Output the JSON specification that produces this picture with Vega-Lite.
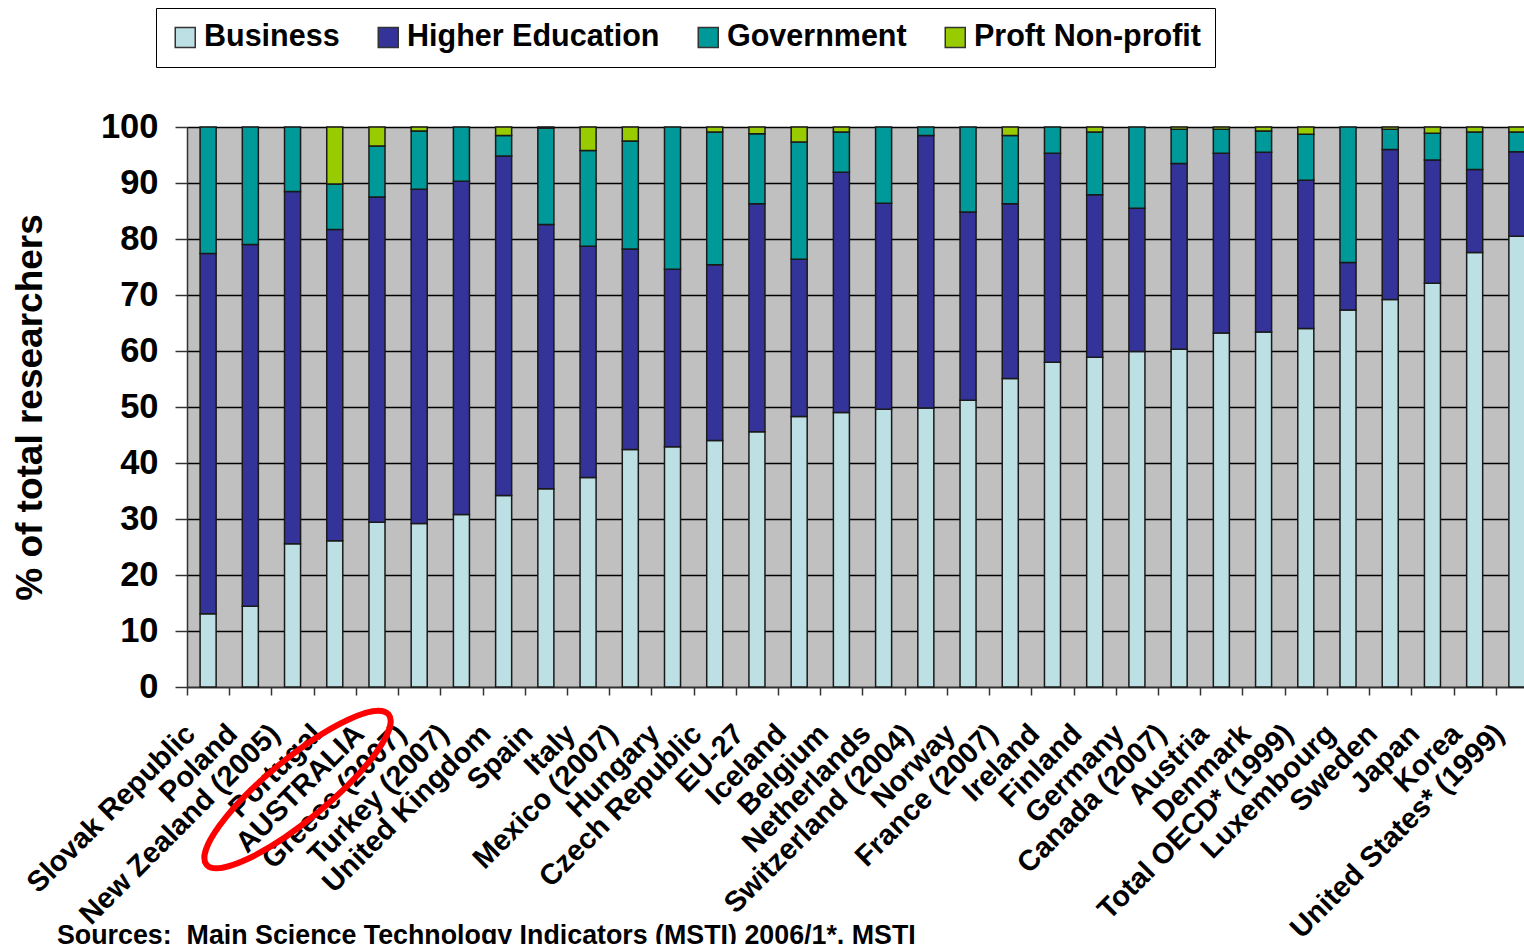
{
  "$schema": "https://vega.github.io/schema/vega-lite/v6.json",
  "width": 1351,
  "height": 560,
  "autosize": {"type": "none"},
  "padding": {"left": 187, "top": 127, "right": -14, "bottom": 257},
  "background": "white",
  "config": {
    "view": {"fill": "#C0C0C0", "stroke": null},
    "font": "Liberation Sans"
  },
  "title": {
    "text": "Sources:\u00a0 Main Science Technology Indicators (MSTI) 2006/1*, MSTI",
    "orient": "bottom", "anchor": "start", "frame": "group",
    "dx": -130, "offset": -20,
    "font": "Liberation Sans", "fontSize": 26.8, "fontWeight": "bold", "color": "black"
  },
  "layer": [
    {
      "data": {"values": [
        {"c":"Slovak Republic","s":"Business","v":13.1,"k":1},
        {"c":"Slovak Republic","s":"Higher Education","v":64.3,"k":2},
        {"c":"Slovak Republic","s":"Government","v":22.6,"k":3},
        {"c":"Poland","s":"Business","v":14.4,"k":1},
        {"c":"Poland","s":"Higher Education","v":64.6,"k":2},
        {"c":"Poland","s":"Government","v":21.0,"k":3},
        {"c":"New Zealand (2005)","s":"Business","v":25.6,"k":1},
        {"c":"New Zealand (2005)","s":"Higher Education","v":62.9,"k":2},
        {"c":"New Zealand (2005)","s":"Government","v":11.5,"k":3},
        {"c":"Portugal","s":"Business","v":26.1,"k":1},
        {"c":"Portugal","s":"Higher Education","v":55.6,"k":2},
        {"c":"Portugal","s":"Government","v":8.1,"k":3},
        {"c":"Portugal","s":"Proft Non-profit","v":10.2,"k":4},
        {"c":"AUSTRALIA","s":"Business","v":29.4,"k":1},
        {"c":"AUSTRALIA","s":"Higher Education","v":58.1,"k":2},
        {"c":"AUSTRALIA","s":"Government","v":9.1,"k":3},
        {"c":"AUSTRALIA","s":"Proft Non-profit","v":3.4,"k":4},
        {"c":"Greece (2007)","s":"Business","v":29.2,"k":1},
        {"c":"Greece (2007)","s":"Higher Education","v":59.7,"k":2},
        {"c":"Greece (2007)","s":"Government","v":10.4,"k":3},
        {"c":"Greece (2007)","s":"Proft Non-profit","v":0.7,"k":4},
        {"c":"Turkey (2007)","s":"Business","v":30.8,"k":1},
        {"c":"Turkey (2007)","s":"Higher Education","v":59.5,"k":2},
        {"c":"Turkey (2007)","s":"Government","v":9.7,"k":3},
        {"c":"United Kingdom","s":"Business","v":34.2,"k":1},
        {"c":"United Kingdom","s":"Higher Education","v":60.6,"k":2},
        {"c":"United Kingdom","s":"Government","v":3.7,"k":3},
        {"c":"United Kingdom","s":"Proft Non-profit","v":1.5,"k":4},
        {"c":"Spain","s":"Business","v":35.4,"k":1},
        {"c":"Spain","s":"Higher Education","v":47.2,"k":2},
        {"c":"Spain","s":"Government","v":17.2,"k":3},
        {"c":"Spain","s":"Proft Non-profit","v":0.2,"k":4},
        {"c":"Italy","s":"Business","v":37.4,"k":1},
        {"c":"Italy","s":"Higher Education","v":41.3,"k":2},
        {"c":"Italy","s":"Government","v":17.1,"k":3},
        {"c":"Italy","s":"Proft Non-profit","v":4.2,"k":4},
        {"c":"Mexico (2007)","s":"Business","v":42.4,"k":1},
        {"c":"Mexico (2007)","s":"Higher Education","v":35.8,"k":2},
        {"c":"Mexico (2007)","s":"Government","v":19.3,"k":3},
        {"c":"Mexico (2007)","s":"Proft Non-profit","v":2.5,"k":4},
        {"c":"Hungary","s":"Business","v":42.9,"k":1},
        {"c":"Hungary","s":"Higher Education","v":31.7,"k":2},
        {"c":"Hungary","s":"Government","v":25.4,"k":3},
        {"c":"Czech Republic","s":"Business","v":44.0,"k":1},
        {"c":"Czech Republic","s":"Higher Education","v":31.4,"k":2},
        {"c":"Czech Republic","s":"Government","v":23.7,"k":3},
        {"c":"Czech Republic","s":"Proft Non-profit","v":0.9,"k":4},
        {"c":"EU-27","s":"Business","v":45.6,"k":1},
        {"c":"EU-27","s":"Higher Education","v":40.7,"k":2},
        {"c":"EU-27","s":"Government","v":12.5,"k":3},
        {"c":"EU-27","s":"Proft Non-profit","v":1.2,"k":4},
        {"c":"Iceland","s":"Business","v":48.3,"k":1},
        {"c":"Iceland","s":"Higher Education","v":28.1,"k":2},
        {"c":"Iceland","s":"Government","v":20.9,"k":3},
        {"c":"Iceland","s":"Proft Non-profit","v":2.7,"k":4},
        {"c":"Belgium","s":"Business","v":49.0,"k":1},
        {"c":"Belgium","s":"Higher Education","v":42.9,"k":2},
        {"c":"Belgium","s":"Government","v":7.2,"k":3},
        {"c":"Belgium","s":"Proft Non-profit","v":0.9,"k":4},
        {"c":"Netherlands","s":"Business","v":49.6,"k":1},
        {"c":"Netherlands","s":"Higher Education","v":36.8,"k":2},
        {"c":"Netherlands","s":"Government","v":13.6,"k":3},
        {"c":"Switzerland (2004)","s":"Business","v":49.8,"k":1},
        {"c":"Switzerland (2004)","s":"Higher Education","v":48.7,"k":2},
        {"c":"Switzerland (2004)","s":"Government","v":1.5,"k":3},
        {"c":"Norway","s":"Business","v":51.2,"k":1},
        {"c":"Norway","s":"Higher Education","v":33.6,"k":2},
        {"c":"Norway","s":"Government","v":15.2,"k":3},
        {"c":"France (2007)","s":"Business","v":55.1,"k":1},
        {"c":"France (2007)","s":"Higher Education","v":31.2,"k":2},
        {"c":"France (2007)","s":"Government","v":12.2,"k":3},
        {"c":"France (2007)","s":"Proft Non-profit","v":1.5,"k":4},
        {"c":"Ireland","s":"Business","v":58.0,"k":1},
        {"c":"Ireland","s":"Higher Education","v":37.3,"k":2},
        {"c":"Ireland","s":"Government","v":4.7,"k":3},
        {"c":"Finland","s":"Business","v":58.9,"k":1},
        {"c":"Finland","s":"Higher Education","v":29.0,"k":2},
        {"c":"Finland","s":"Government","v":11.2,"k":3},
        {"c":"Finland","s":"Proft Non-profit","v":0.9,"k":4},
        {"c":"Germany","s":"Business","v":59.9,"k":1},
        {"c":"Germany","s":"Higher Education","v":25.6,"k":2},
        {"c":"Germany","s":"Government","v":14.5,"k":3},
        {"c":"Canada (2007)","s":"Business","v":60.3,"k":1},
        {"c":"Canada (2007)","s":"Higher Education","v":33.2,"k":2},
        {"c":"Canada (2007)","s":"Government","v":6.1,"k":3},
        {"c":"Canada (2007)","s":"Proft Non-profit","v":0.4,"k":4},
        {"c":"Austria","s":"Business","v":63.2,"k":1},
        {"c":"Austria","s":"Higher Education","v":32.1,"k":2},
        {"c":"Austria","s":"Government","v":4.3,"k":3},
        {"c":"Austria","s":"Proft Non-profit","v":0.4,"k":4},
        {"c":"Denmark","s":"Business","v":63.4,"k":1},
        {"c":"Denmark","s":"Higher Education","v":32.1,"k":2},
        {"c":"Denmark","s":"Government","v":3.8,"k":3},
        {"c":"Denmark","s":"Proft Non-profit","v":0.7,"k":4},
        {"c":"Total OECD* (1999)","s":"Business","v":64.0,"k":1},
        {"c":"Total OECD* (1999)","s":"Higher Education","v":26.5,"k":2},
        {"c":"Total OECD* (1999)","s":"Government","v":8.2,"k":3},
        {"c":"Total OECD* (1999)","s":"Proft Non-profit","v":1.3,"k":4},
        {"c":"Luxembourg","s":"Business","v":67.3,"k":1},
        {"c":"Luxembourg","s":"Higher Education","v":8.5,"k":2},
        {"c":"Luxembourg","s":"Government","v":24.2,"k":3},
        {"c":"Sweden","s":"Business","v":69.2,"k":1},
        {"c":"Sweden","s":"Higher Education","v":26.8,"k":2},
        {"c":"Sweden","s":"Government","v":3.6,"k":3},
        {"c":"Sweden","s":"Proft Non-profit","v":0.4,"k":4},
        {"c":"Japan","s":"Business","v":72.1,"k":1},
        {"c":"Japan","s":"Higher Education","v":22.0,"k":2},
        {"c":"Japan","s":"Government","v":4.8,"k":3},
        {"c":"Japan","s":"Proft Non-profit","v":1.1,"k":4},
        {"c":"Korea","s":"Business","v":77.6,"k":1},
        {"c":"Korea","s":"Higher Education","v":14.8,"k":2},
        {"c":"Korea","s":"Government","v":6.7,"k":3},
        {"c":"Korea","s":"Proft Non-profit","v":0.9,"k":4},
        {"c":"United States* (1999)","s":"Business","v":80.5,"k":1},
        {"c":"United States* (1999)","s":"Higher Education","v":15.1,"k":2},
        {"c":"United States* (1999)","s":"Government","v":3.5,"k":3},
        {"c":"United States* (1999)","s":"Proft Non-profit","v":0.9,"k":4}
      ]},
      "mark": {"type": "bar", "stroke": "#1a1a1a", "strokeWidth": 1.5},
      "encoding": {
        "x": {
          "field": "c", "type": "nominal", "sort": null, "title": null,
          "scale": {"paddingInner": 0.62, "paddingOuter": 0.31},
          "axis": {
            "labelAngle": -45, "labelAlign": "right", "labelBaseline": "top",
            "labelFont": "Liberation Sans", "labelFontSize": 29, "labelFontWeight": "bold",
            "labelColor": "black", "labelLimit": 600, "labelOverlap": false, "labelBound": false,
            "labelPadding": 24, "tickOffset": -21.11, "labelOffset": -6.9,
            "tickSize": 8, "tickColor": "#333333", "tickWidth": 1.5,
            "domainColor": "#333333", "domainWidth": 1.5, "grid": false
          }
        },
        "y": {
          "field": "v", "type": "quantitative", "stack": "zero",
          "title": "% of total researchers",
          "scale": {"domain": [0, 100], "nice": false},
          "axis": {
            "values": [0, 10, 20, 30, 40, 50, 60, 70, 80, 90, 100],
            "grid": true, "gridColor": "black", "gridWidth": 1.5, "gridOpacity": 1,
            "domainColor": "#333333", "domainWidth": 1.5,
            "tickColor": "#333333", "tickWidth": 1.5, "tickSize": 12,
            "labelFont": "Liberation Sans", "labelFontSize": 34.5, "labelFontWeight": "bold",
            "labelColor": "black", "labelPadding": 17, "labelFlush": false, "labelOverlap": false,
            "titleFont": "Liberation Sans", "titleFontSize": 37, "titleFontWeight": "bold",
            "titleColor": "black", "titlePadding": 51
          }
        },
        "color": {
          "field": "s", "type": "nominal",
          "scale": {
            "domain": ["Business", "Higher Education", "Government", "Proft Non-profit"],
            "range": ["#BDE0E4", "#333399", "#009999", "#99CC00"]
          },
          "legend": {
            "title": null, "orient": "none", "legendX": -31, "legendY": -119,
            "direction": "horizontal", "columns": 4, "padding": 14,
            "strokeColor": "black", "fillColor": "white",
            "symbolType": "square", "symbolSize": 400, "symbolStrokeColor": "#333333",
            "symbolStrokeWidth": 1.5, "symbolOpacity": 1,
            "labelFont": "Liberation Sans", "labelFontSize": 30.5, "labelFontWeight": "bold",
            "labelColor": "black", "labelOffset": 3.5, "columnPadding": 33, "labelLimit": 500
          }
        },
        "order": {"field": "k", "type": "quantitative", "sort": "ascending"}
      }
    },
    {
      "data": {"values": [{"c": "New Zealand (2005)", "v": -18.3}]},
      "mark": {
        "type": "point",
        "shape": "M1,0C1,0.1436,0.5523,0.26,0,0.26C-0.5523,0.26,-1,0.1436,-1,0C-1,-0.1436,-0.5523,-0.26,0,-0.26C0.5523,-0.26,1,-0.1436,1,0Z",
        "size": 55696, "angle": 320.5, "filled": false, "xOffset": 5,
        "stroke": "#FF0000", "strokeWidth": 6, "opacity": 1
      },
      "encoding": {
        "x": {"field": "c", "type": "nominal", "sort": null},
        "y": {"field": "v", "type": "quantitative"}
      }
    }
  ]
}
